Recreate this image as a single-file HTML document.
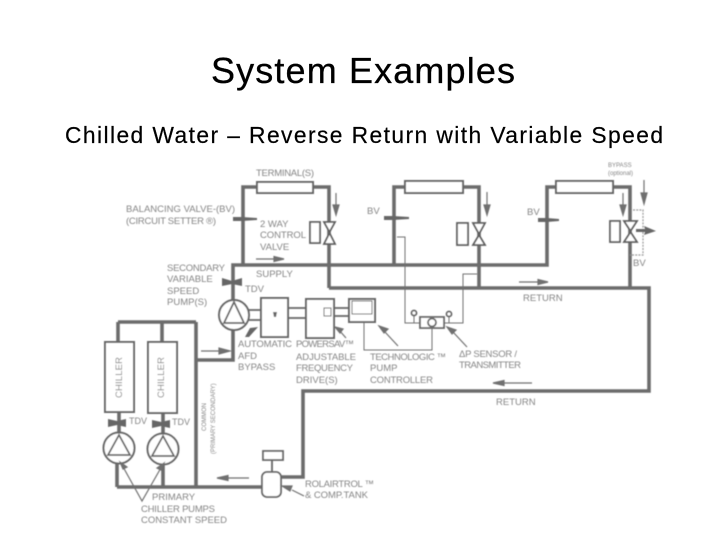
<!DOCTYPE html>
<html><head><meta charset="utf-8"><style>
html,body{margin:0;padding:0;background:#fff;width:728px;height:546px;overflow:hidden}
svg{display:block}
.t{font-family:"Liberation Sans",sans-serif;fill:#858585}
.s{font-family:"Liberation Sans",sans-serif;fill:#000}
</style></head><body>
<svg width="728" height="546" viewBox="0 0 728 546" xmlns="http://www.w3.org/2000/svg">
<defs><filter id="b" x="-5%" y="-5%" width="110%" height="110%"><feGaussianBlur stdDeviation="0.4"/></filter></defs>
<text class="s" x="211" y="83" font-size="36" textLength="304" stroke="#000" stroke-width="0.3">System Examples</text>
<text class="s" x="65" y="143" font-size="22.800" textLength="598" stroke="#000" stroke-width="0.2">Chilled Water – Reverse Return with Variable Speed</text>
<g filter="url(#b)">
<g fill="none" stroke="#6c6c6c" stroke-width="3.600">
<path d="M233 300V265H547V187H556"/>
<path d="M243 265V187H257M313 187H329V288"/>
<path d="M394 265V187H405M463 187H479V288"/>
<path d="M613 187H630V288"/>
<path d="M329 288H649V391H303V477H280"/>
<path d="M233 330V360H197M196 322V487M118 322H196M118 322V342M162 322V342"/>
<path d="M117 487H272M117 462V487M163 462V487"/>
<path d="M119 412V432M163 413V433"/>
</g>
<g fill="#fff" stroke="#666" stroke-width="2">
<rect x="257" y="182" width="56" height="11"/>
<rect x="405" y="181" width="58" height="12"/>
<rect x="556" y="181" width="57" height="12"/>
<rect x="105" y="342" width="29" height="70"/>
<rect x="148" y="342" width="29" height="71"/>
<circle cx="234" cy="315" r="15"/>
<circle cx="119" cy="448" r="15.500"/>
<circle cx="163" cy="449" r="15.500"/>
<path d="M249 310H261M249 320H261M288 308H306M288 318H306M334 308H349M334 316H349" fill="none" stroke-width="1.800"/>
<rect x="261" y="298" width="27" height="39"/>
<rect x="306" y="299" width="28" height="39"/>
<rect x="349" y="299" width="26" height="23"/>
</g>
<g fill="none" stroke="#666" stroke-width="1.800">
<path d="M234 302L224 323H244ZM119 435L108 455H130ZM163 436L152 456H174Z"/>
<rect x="324" y="308" width="7" height="8" stroke-width="1"/>
<rect x="352" y="301" width="20" height="13" stroke-width="1"/>
</g>
<path d="M273 312h4l-1 5h-2z" fill="#666"/>
<g fill="#fff" stroke="#5f5f5f" stroke-width="1.800">
<path d="M324 222h11l-5.500 10zM324 244h11l-5.500-11z"/>
<path d="M473 223h12l-6 11zM473 245h12l-6-10z"/>
<path d="M624 221h13l-6.500 10zM624 242h13l-6.500-10z"/>
<rect x="310" y="222" width="10" height="21"/>
<rect x="457" y="223" width="11" height="22"/>
<rect x="610" y="221" width="10" height="21"/>
</g>
<g fill="none" stroke="#707070" stroke-width="1">
<path d="M397 237H405V323H420M444 323H463V274H477"/>
<path d="M364 322V350H432V328"/>
<path d="M414 316V323M449 317V323"/>
<path d="M633 210H643V255H630" stroke-dasharray="2 1.200" stroke="#999" stroke-width="1.200"/>
</g>
<g fill="#fff" stroke="#666" stroke-width="1.800">
<rect x="420" y="317" width="24" height="11"/>
<circle cx="432" cy="322.500" r="4"/>
<circle cx="414" cy="313" r="2.500"/>
<circle cx="449" cy="314" r="2.500"/>
<rect x="263" y="451" width="20" height="9"/>
<path d="M272 460v12"/>
<rect x="262" y="472" width="19" height="25" rx="5"/>
</g>
<g fill="#666">
<path d="M233 217h9l15 1v2l-15 1h-9zM384 216h9l16 1v2l-16 1h-9zM538 218h9l12 1v2l-12 1h-9z"/>
<path d="M222 278l10 3 10-3v8l-10-2-10 2zM108 419l9 2 9-2v8l-9-2-9 2zM152 420l9 2 9-2v8l-9-2-9 2z"/>
<path d="M636 229h9l-1-3 12 5-12 4 1-3h-9z"/>
<path d="M245 337l5-9 8-1-9 10z"/>
</g>
<g stroke="#707070" stroke-width="1.200" fill="#707070">
<path d="M256 259h20" fill="none"/><path d="M284 259l-10-2.500v5z"/>
<path d="M336 193v14" fill="none"/><path d="M336 215l-3-10h6z"/>
<path d="M487 192v14" fill="none"/><path d="M487 215l-3-10h6z"/>
<path d="M623 193v14" fill="none"/><path d="M623 215l-3-10h6z"/>
<path d="M644 180v14" fill="none"/><path d="M644 204l-3-11h6z"/>
<path d="M519 282h20" fill="none"/><path d="M548 282l-10-2.500v5z"/>
<path d="M532 383h-30" fill="none"/><path d="M493 383l11-2.500v5z"/>
<path d="M201 351h20" fill="none"/><path d="M230 351l-11-3v6z"/>
<path d="M249 478h-24" fill="none"/><path d="M217 478l11-2.500v5z"/>
<path d="M346 338l-7-8" fill="none"/><path d="M335 327l8 2-3 4z"/>
<path d="M398 346l-13-14" fill="none"/><path d="M379 326l9 3-4 4z"/>
<path d="M467 347l-14-15" fill="none"/><path d="M447 327l9 3-4 4z"/>
<path d="M304 496l-12-6" fill="none"/><path d="M282 486l10 0-2 5z"/>
<path d="M122 465l20 36 20-35" fill="none"/>
<path d="M120 462l7 5-4 2zM164 463l-7 5 4 2z"/>
</g>
<g class="t" font-size="9.500">
<text x="256" y="176" textLength="58">TERMINAL(S)</text>
<text x="126" y="212" textLength="109">BALANCING VALVE-(BV)</text>
<text x="126" y="224" textLength="90">(CIRCUIT SETTER ®)</text>
<text x="260" y="227">2 WAY</text>
<text x="260" y="238" textLength="46">CONTROL</text>
<text x="260" y="250">VALVE</text>
<text x="367" y="214">BV</text>
<text x="527" y="215">BV</text>
<text x="633" y="266">BV</text>
<text x="608" y="167" font-size="6">BYPASS</text>
<text x="608" y="175" font-size="6">(optional)</text>
<text x="167" y="271" textLength="58">SECONDARY</text>
<text x="167" y="282">VARIABLE</text>
<text x="167" y="294">SPEED</text>
<text x="167" y="305">PUMP(S)</text>
<text x="256" y="277">SUPPLY</text>
<text x="245" y="292">TDV</text>
<text x="523" y="301">RETURN</text>
<text x="496" y="405">RETURN</text>
<text x="238" y="347" textLength="54">AUTOMATIC</text>
<text x="238" y="359">AFD</text>
<text x="238" y="370">BYPASS</text>
<text x="296" y="347" textLength="58">POWERSAV™</text>
<text x="296" y="360" textLength="60">ADJUSTABLE</text>
<text x="296" y="371" textLength="57">FREQUENCY</text>
<text x="296" y="383">DRIVE(S)</text>
<text x="370" y="360" textLength="76">TECHNOLOGIC ™</text>
<text x="370" y="371">PUMP</text>
<text x="370" y="383" textLength="63">CONTROLLER</text>
<text x="459" y="357" textLength="58">ΔP SENSOR /</text>
<text x="459" y="368" textLength="62">TRANSMITTER</text>
<text x="305" y="487" textLength="69">ROLAIRTROL ™</text>
<text x="305" y="498" textLength="63">&amp; COMP.TANK</text>
<text x="129" y="424" font-size="9">TDV</text>
<text x="172" y="425" font-size="9">TDV</text>
<text x="152" y="500">PRIMARY</text>
<text x="141" y="512" textLength="74">CHILLER PUMPS</text>
<text x="141" y="523" textLength="86">CONSTANT SPEED</text>
<text transform="translate(122,398) rotate(-90)" textLength="41">CHILLER</text>
<text transform="translate(164,398) rotate(-90)" textLength="41">CHILLER</text>
<text transform="translate(206,431) rotate(-90)" font-size="6">COMMON</text>
<text transform="translate(215,454) rotate(-90)" font-size="6">(PRIMARY SECONDARY)</text>
</g>
</g>
</svg>
</body></html>
